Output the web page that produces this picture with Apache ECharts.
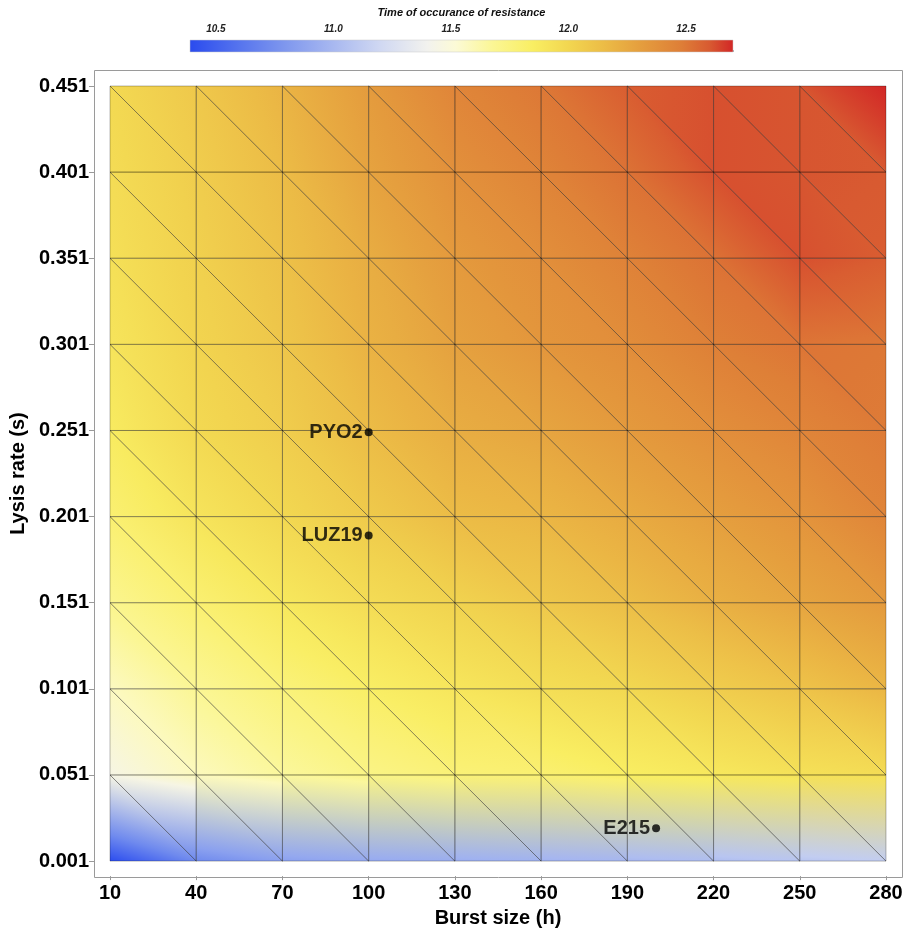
<!DOCTYPE html>
<html>
<head>
<meta charset="utf-8">
<title>Time of occurance of resistance</title>
<script src="https://cdn.jsdelivr.net/npm/echarts@6/dist/echarts.min.js"></script>
<style>
  html, body { margin: 0; padding: 0; background: #fff; }
  #main { width: 906px; height: 933px; }
</style>
</head>
<body>
<div id="main"></div>
<script>
// burst size (x) and lysis rate (y) nodes of the mesh
const burstSizes = [10, 40, 70, 100, 130, 160, 190, 220, 250, 280]
const lysisRates = [0.001, 0.051, 0.101, 0.151, 0.201, 0.251, 0.301, 0.351, 0.401, 0.451]

// time of occurance of resistance, one row per lysis rate (lowest first)
const resistanceTime = [
  [10.40, 10.72, 10.85, 10.90, 10.93, 10.96, 10.99, 11.03, 11.08, 11.13],
  [11.45, 11.58, 11.66, 11.73, 11.78, 11.80, 11.85, 11.89, 11.93, 11.96],
  [11.57, 11.68, 11.77, 11.84, 11.90, 11.95, 11.99, 12.05, 12.11, 12.18],
  [11.70, 11.80, 11.89, 11.96, 12.02, 12.08, 12.14, 12.21, 12.27, 12.33],
  [11.80, 11.91, 11.99, 12.07, 12.15, 12.18, 12.24, 12.30, 12.36, 12.44],
  [11.87, 11.98, 12.05, 12.15, 12.23, 12.27, 12.33, 12.39, 12.44, 12.49],
  [11.91, 12.01, 12.09, 12.20, 12.29, 12.35, 12.40, 12.47, 12.51, 12.50],
  [11.94, 12.03, 12.12, 12.23, 12.33, 12.39, 12.46, 12.52, 12.62, 12.59],
  [11.96, 12.05, 12.15, 12.28, 12.38, 12.45, 12.52, 12.62, 12.61, 12.60],
  [11.98, 12.08, 12.19, 12.32, 12.44, 12.50, 12.59, 12.62, 12.61, 12.70]
]

// labelled phages
const phageNames = ['PYO2', 'LUZ19', 'E215']
const phageBurst = [100, 100, 200]
const phageLysis = [0.25, 0.19, 0.02]

// colour bar
const barMin = 10.39
const barMax = 12.70
const barLabels = [10.5, 11.0, 11.5, 12.0, 12.5]
const barTicks = [10.4, 10.5, 10.6, 10.7, 10.8, 10.9, 11.0, 11.1, 11.2, 11.3, 11.4, 11.5,
  11.6, 11.7, 11.8, 11.9, 12.0, 12.1, 12.2, 12.3, 12.4, 12.5, 12.6, 12.7]
const colorStops = [
  [10.39, '#2a4bee'],
  [10.60, '#5674ee'],
  [10.80, '#8098ee'],
  [11.00, '#a8b8f0'],
  [11.20, '#d0d8f2'],
  [11.40, '#f2f2ee'],
  [11.52, '#fcfad6'],
  [11.68, '#fbf694'],
  [11.85, '#f9ee62'],
  [12.00, '#f2d650'],
  [12.15, '#ecbc46'],
  [12.30, '#e59f3e'],
  [12.48, '#de7e37'],
  [12.60, '#d85a31'],
  [12.70, '#d22626']
]

const FONT = "'Liberation Sans', Arial, sans-serif"

const hexToRgb = (h) => [parseInt(h.slice(1, 3), 16), parseInt(h.slice(3, 5), 16), parseInt(h.slice(5, 7), 16)]

const colorOf = (v) => {
  if (v <= colorStops[0][0]) return colorStops[0][1]
  for (let k = 1; k < colorStops.length; k++) {
    if (v <= colorStops[k][0]) {
      const [v0, c0] = colorStops[k - 1]
      const [v1, c1] = colorStops[k]
      const t = (v - v0) / (v1 - v0)
      const a = hexToRgb(c0)
      const b = hexToRgb(c1)
      const c = a.map((x, n) => Math.round(x + (b[n] - x) * t))
      return 'rgb(' + c.join(',') + ')'
    }
  }
  return colorStops[colorStops.length - 1][1]
}

// fill of one triangle: colours of the three nodes, blended along the value gradient
const triFill = (pts, vals) => {
  const [p0, p1, p2] = pts
  const x1 = p1[0] - p0[0], y1 = p1[1] - p0[1]
  const x2 = p2[0] - p0[0], y2 = p2[1] - p0[1]
  const d1 = vals[1] - vals[0], d2 = vals[2] - vals[0]
  const det = x1 * y2 - x2 * y1
  const a = (d1 * y2 - d2 * y1) / det
  const b = (x1 * d2 - x2 * d1) / det
  const g2 = a * a + b * b
  const order = [0, 1, 2].sort((m, n) => vals[m] - vals[n])
  const vMin = vals[order[0]], vMid = vals[order[1]], vMax = vals[order[2]]
  if (g2 < 1e-14 || vMax - vMin < 1e-9) return colorOf(vals[0])
  const lo = pts[order[0]]
  const span = (vMax - vMin) / g2
  return new echarts.graphic.LinearGradient(
    lo[0], lo[1], lo[0] + a * span, lo[1] + b * span,
    [
      { offset: 0, color: colorOf(vMin) },
      { offset: (vMid - vMin) / (vMax - vMin), color: colorOf(vMid) },
      { offset: 1, color: colorOf(vMax) }
    ],
    true
  )
}

const cells = []
for (let j = 0; j < lysisRates.length - 1; j++) {
  for (let i = 0; i < burstSizes.length - 1; i++) cells.push([i, j])
}

const cellTriangles = (params, api) => {
  const i = api.value(0)
  const j = api.value(1)
  const tl = api.coord([burstSizes[i], lysisRates[j + 1]])
  const bl = api.coord([burstSizes[i], lysisRates[j]])
  const br = api.coord([burstSizes[i + 1], lysisRates[j]])
  const tr = api.coord([burstSizes[i + 1], lysisRates[j + 1]])
  return {
    lower: { pts: [tl, bl, br], vals: [resistanceTime[j + 1][i], resistanceTime[j][i], resistanceTime[j][i + 1]] },
    upper: { pts: [tl, tr, br], vals: [resistanceTime[j + 1][i], resistanceTime[j + 1][i + 1], resistanceTime[j][i + 1]] }
  }
}

const chart = echarts.init(document.getElementById('main'))

const option = {
  animation: false,
  backgroundColor: '#fff',
  textStyle: { fontFamily: FONT },
  graphic: [
    {
      type: 'rect',
      silent: true,
      shape: { x: 94.5, y: 70.5, width: 808, height: 807 },
      style: { fill: 'none', stroke: '#9a9a9a', lineWidth: 1 },
      z: 1
    }
  ],
  grid: [
    { left: 110, right: 20, top: 86, bottom: 71 },
    { left: 190, right: 173, top: 40, height: 12 }
  ],
  xAxis: [
    {
      type: 'value',
      gridIndex: 0,
      min: 10,
      max: 280,
      interval: 30,
      offset: 15,
      name: 'Burst size (h)',
      nameLocation: 'middle',
      nameGap: 28,
      nameTextStyle: { fontSize: 20, fontWeight: 'bold', color: '#000', fontFamily: FONT },
      axisLine: { show: false },
      axisTick: { show: true, length: 4, lineStyle: { color: '#999' } },
      axisLabel: {
        margin: 7,
        fontSize: 20,
        fontWeight: 'bold',
        color: '#000',
        fontFamily: FONT,
        formatter: (v) => String(Math.round(v))
      },
      splitLine: { show: false }
    },
    {
      type: 'value',
      gridIndex: 1,
      position: 'top',
      min: barMin,
      max: barMax,
      name: 'Time of occurance of resistance',
      nameLocation: 'middle',
      nameGap: 22,
      nameTextStyle: { fontSize: 11, fontWeight: 'bold', fontStyle: 'italic', color: '#111', fontFamily: FONT },
      axisLine: { show: false },
      axisTick: { show: true, length: 2, customValues: barTicks, lineStyle: { color: '#aaa' } },
      axisLabel: {
        margin: 6,
        fontSize: 10,
        fontWeight: 'bold',
        fontStyle: 'italic',
        color: '#222',
        fontFamily: FONT,
        customValues: barLabels,
        formatter: (v) => v.toFixed(1)
      },
      splitLine: { show: false }
    }
  ],
  yAxis: [
    {
      type: 'value',
      gridIndex: 0,
      min: 0.001,
      max: 0.451,
      interval: 0.05,
      offset: 16,
      name: 'Lysis rate (s)',
      nameLocation: 'middle',
      nameGap: 62,
      nameTextStyle: { fontSize: 20, fontWeight: 'bold', color: '#000', fontFamily: FONT },
      axisLine: { show: false },
      axisTick: { show: true, length: 5, lineStyle: { color: '#999' } },
      axisLabel: {
        margin: 5,
        fontSize: 20,
        fontWeight: 'bold',
        color: '#000',
        fontFamily: FONT,
        formatter: (v) => v.toFixed(3)
      },
      splitLine: { show: false }
    },
    {
      type: 'value',
      gridIndex: 1,
      min: 0,
      max: 1,
      show: false
    }
  ],
  series: [
    {
      name: 'surface',
      type: 'custom',
      xAxisIndex: 0,
      yAxisIndex: 0,
      silent: true,
      data: cells,
      renderItem: (params, api) => {
        const t = cellTriangles(params, api)
        return {
          type: 'group',
          children: [t.lower, t.upper].map((tri) => ({
            type: 'polygon',
            shape: { points: tri.pts },
            style: { fill: triFill(tri.pts, tri.vals), stroke: null, lineWidth: 0 }
          }))
        }
      }
    },
    {
      name: 'mesh',
      type: 'custom',
      xAxisIndex: 0,
      yAxisIndex: 0,
      silent: true,
      data: cells,
      renderItem: (params, api) => {
        const t = cellTriangles(params, api)
        return {
          type: 'group',
          children: [t.lower, t.upper].map((tri) => ({
            type: 'polygon',
            shape: { points: tri.pts },
            style: { fill: 'none', stroke: 'rgba(0,0,0,0.27)', lineWidth: 1 }
          }))
        }
      }
    },
    {
      name: 'phages',
      type: 'scatter',
      xAxisIndex: 0,
      yAxisIndex: 0,
      symbol: 'circle',
      symbolSize: 8,
      itemStyle: { color: '#000' },
      label: {
        show: true,
        position: 'left',
        distance: 2,
        fontSize: 20,
        fontWeight: 'bold',
        color: '#000',
        fontFamily: FONT,
        formatter: (p) => p.name
      },
      data: phageNames.map((n, k) => ({ name: n, value: [phageBurst[k], phageLysis[k]] })),
      z: 5
    },
    {
      name: 'colour bar',
      type: 'custom',
      xAxisIndex: 1,
      yAxisIndex: 1,
      silent: true,
      data: [[barMin, barMax]],
      renderItem: (params, api) => {
        const p0 = api.coord([api.value(0), 1])
        const p1 = api.coord([api.value(1), 0])
        return {
          type: 'rect',
          shape: { x: p0[0], y: p0[1], width: p1[0] - p0[0], height: p1[1] - p0[1] },
          style: {
            fill: new echarts.graphic.LinearGradient(0, 0, 1, 0,
              colorStops.map(([v, c]) => ({ offset: (v - barMin) / (barMax - barMin), color: c }))),
            stroke: '#c8c8c8',
            lineWidth: 0.5
          }
        }
      }
    }
  ]
}

chart.setOption(option)
</script>
</body>
</html>
